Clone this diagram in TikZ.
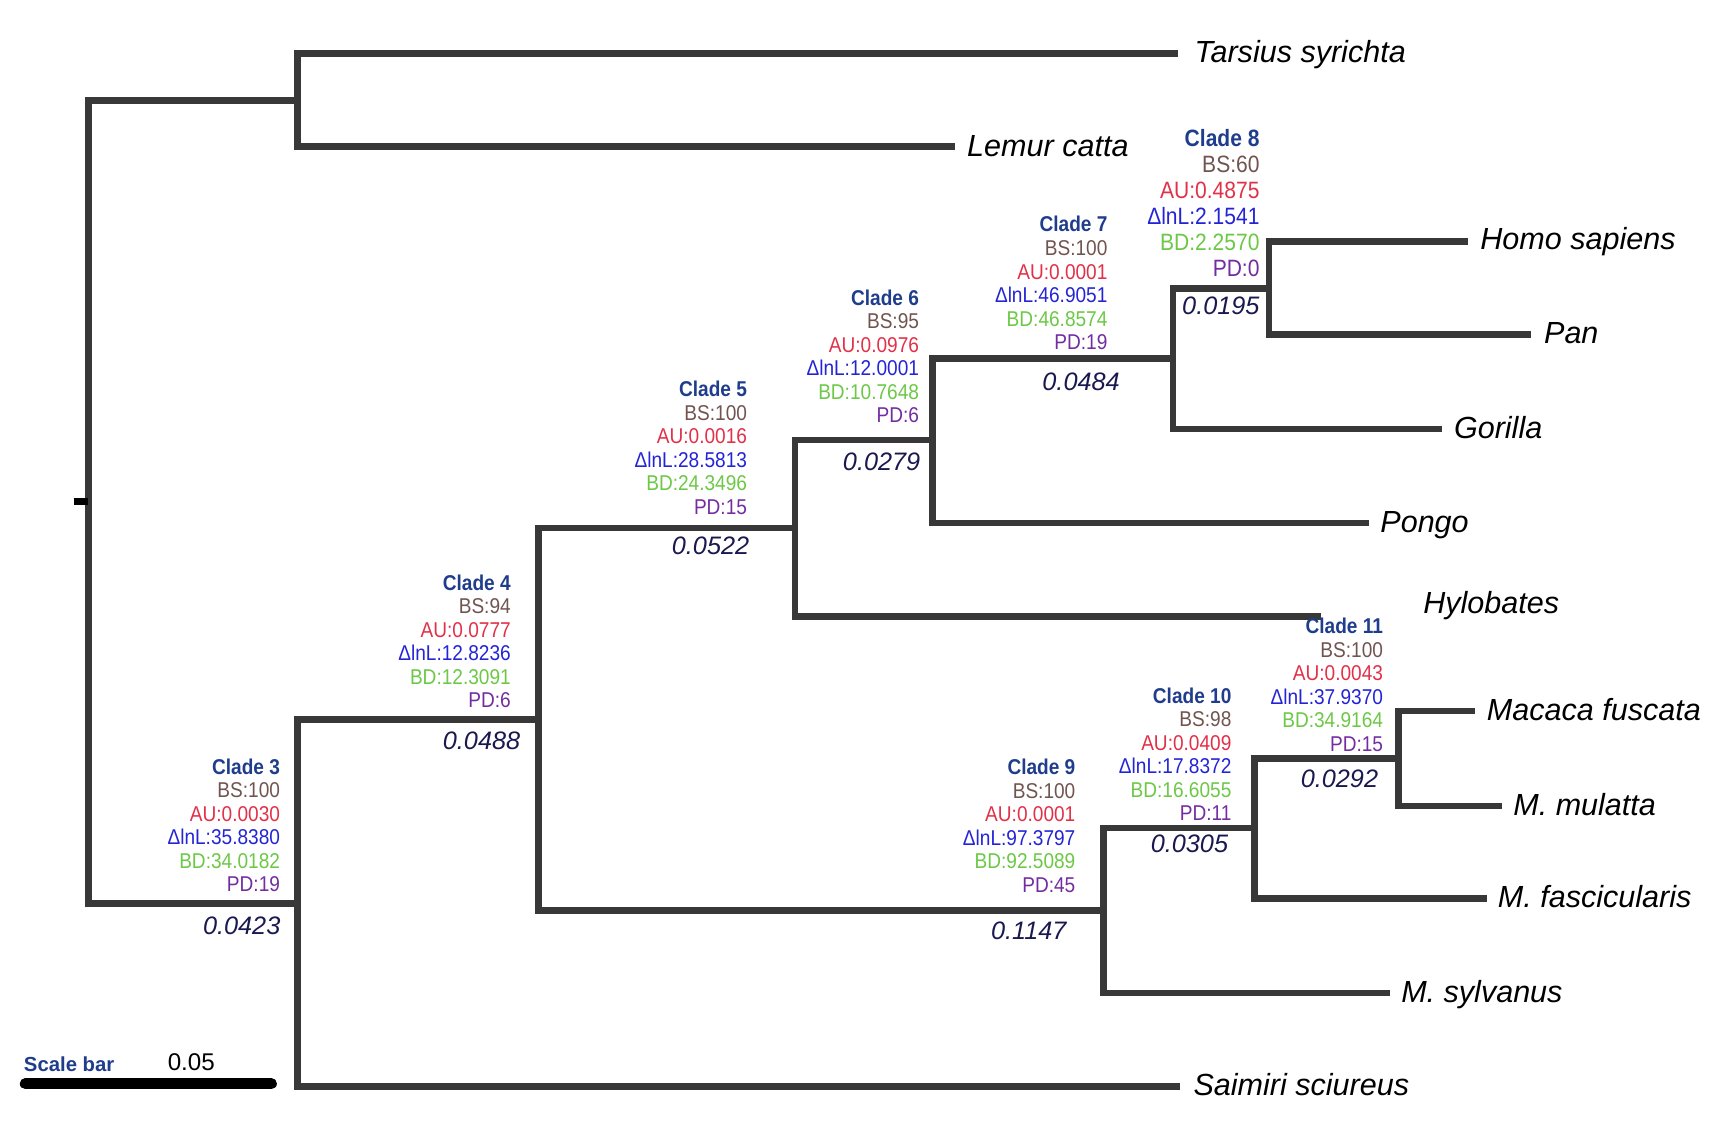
\documentclass[tikz,border=0pt]{standalone}
\usepackage{fontspec}
\setmainfont{Liberation Sans}
\newfontfamily\cladefont[FakeStretch=0.89]{Liberation Sans}
\definecolor{branchcol}{RGB}{56,56,56}
\definecolor{cladeblue}{RGB}{31,61,140}
\definecolor{bscol}{RGB}{112,84,80}
\definecolor{aucol}{RGB}{226,48,72}
\definecolor{lnlcol}{RGB}{36,36,215}
\definecolor{bdcol}{RGB}{108,200,70}
\definecolor{pdcol}{RGB}{115,45,160}
\definecolor{blencol}{RGB}{25,25,80}
\newcommand{\cladeinfo}[9]{%
  \node[#1, anchor=south east] (#2) at #3 {%
    \textcolor{cladeblue}{\bfseries Clade #4}\\
    \textcolor{bscol}{BS:#5}\\
    \textcolor{aucol}{AU:#6}\\
    \textcolor{lnlcol}{ΔlnL:#7}\\
    \textcolor{bdcol}{BD:#8}\\
    \textcolor{pdcol}{PD:#9}};}
\begin{document}
\begin{tikzpicture}[x=1pt,y=-1pt,
  branch/.style={draw=branchcol, line width=6pt, line join=miter, line cap=butt},
  species/.style={anchor=base west, inner sep=0pt, font=\fontsize{27.8}{31}\selectfont\itshape},
  clade/.style={align=right, inner sep=0pt, font=\cladefont\fontsize{19.5}{21.4}\selectfont},
  bigclade/.style={align=right, inner sep=0pt, font=\cladefont\fontsize{21.5}{23.6}\selectfont},
  blen/.style={anchor=base east, inner sep=0pt, text=blencol, font=\fontsize{23}{26}\selectfont\itshape}]
\useasboundingbox (0,0) rectangle (1568,1026);
% internal nodes
\coordinate (root) at (80.5,456.6);
\coordinate (tl) at (270.6,91.3);
\coordinate (c3) at (271,822.3);
\coordinate (c4) at (490,655);
\coordinate (c5) at (723.5,480.6);
\coordinate (c6) at (848.7,400.4);
\coordinate (c7) at (1067.5,326);
\coordinate (c8) at (1154.7,262.3);
\coordinate (c9) at (1004,828.8);
\coordinate (c10) at (1141.5,753.5);
\coordinate (c11) at (1272.5,690);
% tips
\coordinate (tarsius) at (1072,48.5);
\coordinate (lemur) at (869,133.5);
\coordinate (homo) at (1335.5,219.5);
\coordinate (pan) at (1393,304.5);
\coordinate (gorilla) at (1312,390.5);
\coordinate (pongo) at (1245.5,475.8);
\coordinate (hylo) at (1202.5,561);
\coordinate (fusc) at (1342,647);
\coordinate (mula) at (1366.5,733.4);
\coordinate (fasc) at (1353,817.5);
\coordinate (sylv) at (1265,903.5);
\coordinate (saim) at (1073.5,988.5);
\coordinate (rtick) at (67,456.6);
% branches
\draw[branch] (root) |- (tl);
\draw[branch] (root) |- (c3);
\draw[branch] (tl) |- (tarsius);
\draw[branch] (tl) |- (lemur);
\draw[branch] (c3) |- (c4);
\draw[branch] (c3) |- (saim);
\draw[branch] (c4) |- (c5);
\draw[branch] (c4) |- (c9);
\draw[branch] (c5) |- (c6);
\draw[branch] (c5) |- (hylo);
\draw[branch] (c6) |- (c7);
\draw[branch] (c6) |- (pongo);
\draw[branch] (c7) |- (c8);
\draw[branch] (c7) |- (gorilla);
\draw[branch] (c8) |- (homo);
\draw[branch] (c8) |- (pan);
\draw[branch] (c9) |- (c10);
\draw[branch] (c9) |- (sylv);
\draw[branch] (c10) |- (c11);
\draw[branch] (c10) |- (fasc);
\draw[branch] (c11) |- (fusc);
\draw[branch] (c11) |- (mula);
\draw[line width=6pt, black] (rtick) -- (root);
% species labels
\node[species] (Ltarsius) at (1087,57) {Tarsius syrichta};
\node[species] (Llemur) at (880,142) {Lemur catta};
\node[species] (Lhomo) at (1347,227.5) {Homo sapiens};
\node[species] (Lpan) at (1405,313) {Pan};
\node[species] (Lgorilla) at (1323,399) {Gorilla};
\node[species] (Lpongo) at (1256,484.5) {Pongo};
\node[species] (Lhylo) at (1295,558.5) {Hylobates};
\node[species] (Lfusc) at (1353,656) {Macaca fuscata};
\node[species] (Lmula) at (1377,742) {M. mulatta};
\node[species] (Lfasc) at (1363,826) {M. fascicularis};
\node[species] (Lsylv) at (1275,912) {M. sylvanus};
\node[species] (Lsaim) at (1086,997) {Saimiri sciureus};
% clade info
\cladeinfo{clade}{k3}{(255,812)}{3}{100}{0.0030}{35.8380}{34.0182}{19}
\cladeinfo{clade}{k4}{(465,644.5)}{4}{94}{0.0777}{12.8236}{12.3091}{6}
\cladeinfo{clade}{k5}{(680,468.6)}{5}{100}{0.0016}{28.5813}{24.3496}{15}
\cladeinfo{clade}{k6}{(836.5,385.2)}{6}{95}{0.0976}{12.0001}{10.7648}{6}
\cladeinfo{clade}{k7}{(1008,318.5)}{7}{100}{0.0001}{46.9051}{46.8574}{19}
\cladeinfo{bigclade}{k8}{(1146.4,251.8)}{8}{60}{0.4875}{2.1541}{2.2570}{0}
\cladeinfo{clade}{k9}{(978.8,812.4)}{9}{100}{0.0001}{97.3797}{92.5089}{45}
\cladeinfo{clade}{k10}{(1120.8,747)}{10}{98}{0.0409}{17.8372}{16.6055}{11}
\cladeinfo{clade}{k11}{(1258.8,684)}{11}{100}{0.0043}{37.9370}{34.9164}{15}
% branch lengths
\node[blen] (b3) at (255.3,850.2) {0.0423};
\node[blen] (b4) at (473.6,682.4) {0.0488};
\node[blen] (b5) at (682,505) {0.0522};
\node[blen] (b6) at (837.7,428.3) {0.0279};
\node[blen] (b7) at (1019.2,355.8) {0.0484};
\node[blen] (b8) at (1146.4,286) {0.0195};
\node[blen] (b9) at (970.8,855.2) {0.1147};
\node[blen] (b10) at (1117.8,776.2) {0.0305};
\node[blen] (b11) at (1254.3,716.3) {0.0292};
% scale bar
\coordinate (sb1) at (23,986.2);
\coordinate (sb2) at (247,986.2);
\draw[line width=10pt, line cap=round, black] (sb1) -- (sb2);
\node[anchor=base west, inner sep=0pt, text=cladeblue, font=\fontsize{18.5}{21}\selectfont\bfseries] (sbtext) at (21.6,975.2) {Scale bar};
\node[anchor=base west, inner sep=0pt, font=\fontsize{22}{25}\selectfont] (sbval) at (152.5,974.3) {0.05};
\end{tikzpicture}
\end{document}
